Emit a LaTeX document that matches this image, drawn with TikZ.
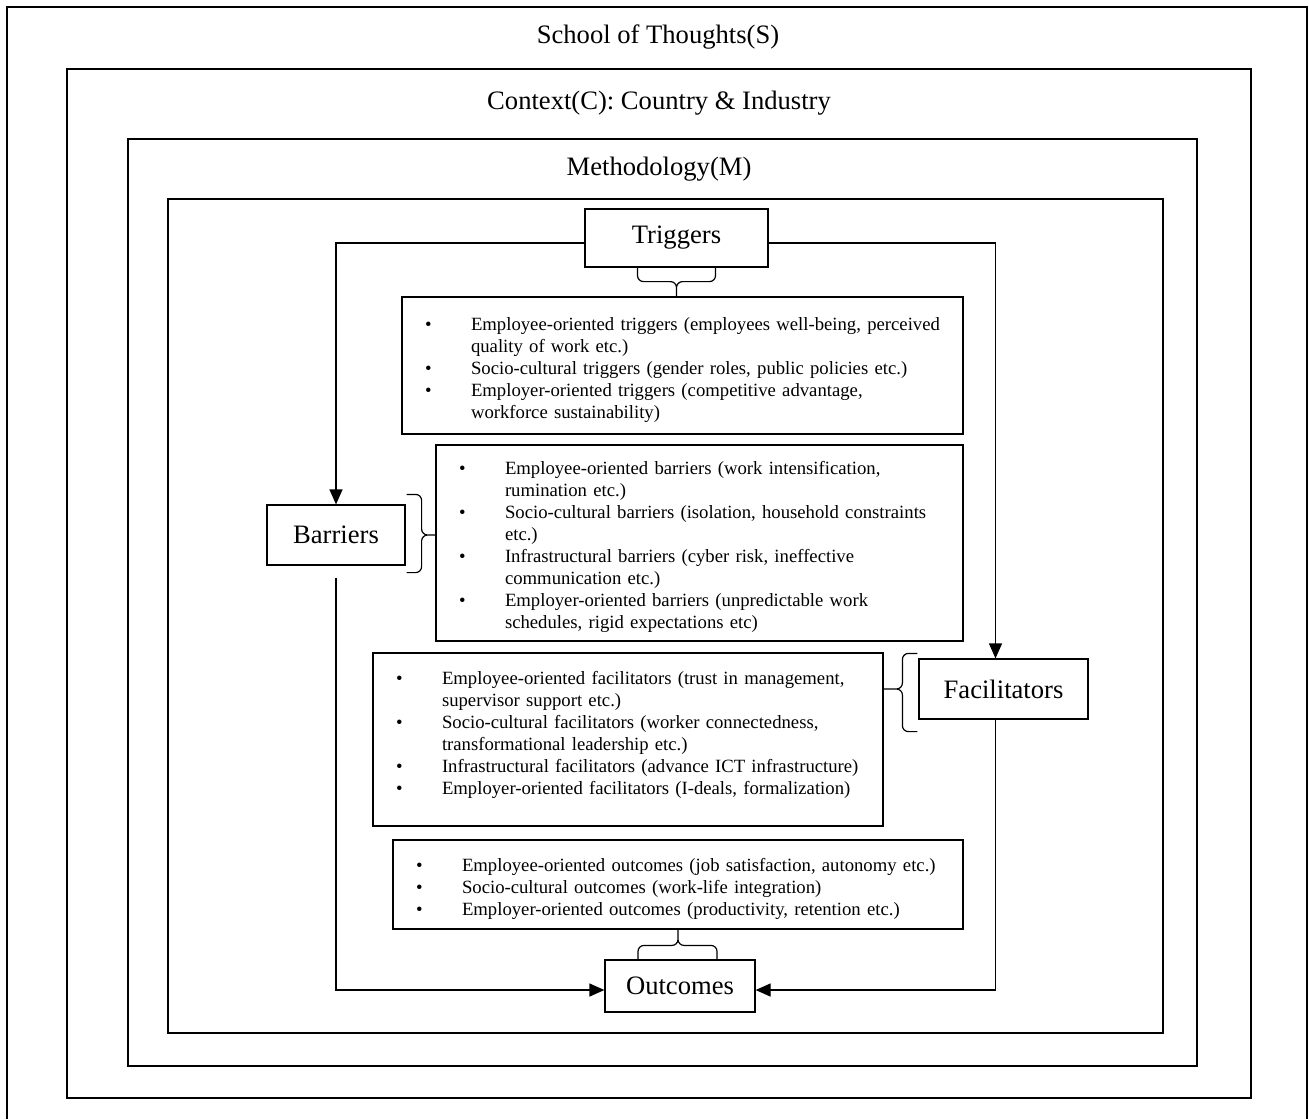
\documentclass[tikz,border=0pt]{standalone}
\usepackage{fontspec}
\setmainfont{Liberation Serif}
\usepackage{enumitem}
\usetikzlibrary{arrows.meta,calc}
\setlist[itemize]{nosep,label=\textbullet,align=left,labelindent=6.5pt,labelwidth=4pt,labelsep=*,leftmargin=29.5pt}

\tikzset{
  frame/.style={line width=0.9pt},
  head/.style={font=\fontsize{13.3}{16}\selectfont},
  stage/.style={draw,line width=0.6pt,inner sep=0pt,font=\fontsize{13.3}{16}\selectfont},
  listbox/.style={draw,line width=0.6pt,inner xsep=5pt,inner ysep=0pt,align=left,font=\fontsize{9.35}{11}\selectfont},
  flow/.style={line width=0.6pt,-{Triangle[length=7.5pt,width=6.5pt]}},
  bracket/.style={line width=0.6pt,rounded corners=3pt},
}

\begin{document}
\begin{tikzpicture}[x=0.5pt,y=-0.5pt]
\useasboundingbox (0,0) rectangle (1309,1119);

% nested frames
\draw[frame] (7,1119) -- (7,7) -- (1307,7) -- (1307,1119);
\draw[frame] (67,69) rectangle (1251,1098);
\draw[frame] (128,139) rectangle (1197,1066);
\draw[frame] (168,199) rectangle (1163,1033);

\node[head] (tS) at (658,37) {School of Thoughts(S)};
\node[head] (tC) at (659,103) {Context(C): Country \& Industry};
\node[head] (tM) at (659,169) {Methodology(M)};

% stages
\node[stage,minimum width=91.5pt,minimum height=29pt] (trig) at (676.5,238) {Triggers};
\node[stage,minimum width=69pt,minimum height=30pt] (barr) at (336,535) {Barriers};
\node[stage,minimum width=84.5pt,minimum height=30pt] (faci) at (1003.5,689) {Facilitators};
\node[stage,minimum width=75pt,minimum height=26pt] (outc) at (680,986) {Outcomes};

% lists
\node[listbox,text width=270.5pt,minimum height=68.5pt] (trigl) at (682.5,365.5) {%
\begin{itemize}
\item Employee-oriented triggers (employees well-being, perceived\newline quality of work etc.)
\item Socio-cultural triggers (gender roles, public policies etc.)
\item Employer-oriented triggers (competitive advantage,\newline workforce sustainability)
\end{itemize}};
\node[listbox,text width=253.5pt,minimum height=98pt] (barrl) at (699.5,543) {%
\begin{itemize}
\item Employee-oriented barriers (work intensification,\newline rumination etc.)
\item Socio-cultural barriers (isolation, household constraints\newline etc.)
\item Infrastructural barriers (cyber risk, ineffective\newline communication etc.)
\item Employer-oriented barriers (unpredictable work\newline schedules, rigid expectations etc)
\end{itemize}};
\node[listbox,text width=245pt,minimum height=86.5pt] (facil) at (628,739.5) {%
\begin{itemize}
\item Employee-oriented facilitators (trust in management,\newline supervisor support etc.)
\item Socio-cultural facilitators (worker connectedness,\newline transformational leadership etc.)
\item Infrastructural facilitators (advance ICT infrastructure)
\item Employer-oriented facilitators (I-deals, formalization)
\end{itemize}\par\mbox{}};
\node[listbox,text width=275pt,minimum height=44.5pt] (outcl) at (678,884.5) {%
\begin{itemize}
\item Employee-oriented outcomes (job satisfaction, autonomy etc.)
\item Socio-cultural outcomes (work-life integration)
\item Employer-oriented outcomes (productivity, retention etc.)
\end{itemize}};

% brackets
\draw[bracket] ($(trig.south)+(-19.5pt,0)$) |- ($(trig.south)+(0,-7pt)$) -- (trig.south |- trigl.north)
  ($(trig.south)+(19.5pt,0)$) |- ($(trig.south)+(0,-7pt)$) -- (trig.south |- trigl.north);
\draw[bracket] ($(barr.north east)+(0.5pt,5pt)$) -| ($(barr.east)+(8pt,0)$) -- (barr.east -| barrl.west)
  ($(barr.south east)+(0.5pt,-3.5pt)$) -| ($(barr.east)+(8pt,0)$) -- (barr.east -| barrl.west);
\draw[bracket] ($(faci.north west)+(-0.5pt,2.5pt)$) -| ($(faci.west)+(-8pt,0)$) -- (faci.west -| facil.east)
  ($(faci.south west)+(-0.5pt,-6pt)$) -| ($(faci.west)+(-8pt,0)$) -- (faci.west -| facil.east);
\draw[bracket] ($(outc.north)+(-21pt,0)$) |- ($(outc.north)+(-1pt,7pt)$) -- (outcl.south)
  ($(outc.north)+(18.5pt,0)$) |- ($(outc.north)+(-1pt,7pt)$) -- (outcl.south);

% arrows
\draw[flow] ([yshift=-2.5pt]trig.west) -| (barr.north);
\draw[flow] ([yshift=-2.5pt]trig.east) -| ([xshift=-4pt]faci.north);
\draw[flow] ([yshift=-6pt]barr.south) |- ([yshift=-2pt]outc.west);
\draw[flow] ([xshift=-4pt]faci.south) |- ([yshift=-2pt]outc.east);
\end{tikzpicture}
\end{document}
